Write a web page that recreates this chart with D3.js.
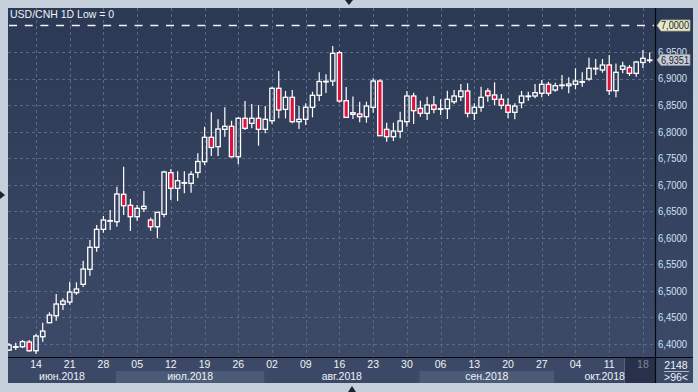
<!DOCTYPE html>
<html><head><meta charset="utf-8">
<script src="https://cdn.jsdelivr.net/npm/d3@7/dist/d3.min.js"></script>
<style>html,body{margin:0;padding:0;background:#c5d0dc;overflow:hidden}svg{display:block;font-family:"Liberation Sans",Arial,sans-serif}</style>
</head><body><svg id="c" width="698" height="392"></svg>
<script>
const title = "USD/CNH 1D Low = 0";
const opens  = [6.3886,6.3949,6.3949,6.4037,6.3873,6.4137,6.4401,6.4533,6.4747,6.4791,6.4966,6.5124,6.5407,6.5821,6.6160,6.6322,6.6304,6.6820,6.6613,6.6398,6.6549,6.6336,6.6209,6.6443,6.7227,6.6933,6.7038,6.7027,6.7231,6.7434,6.7894,6.7717,6.8044,6.8101,6.7528,6.8252,6.8157,6.8252,6.8044,6.8206,6.8817,6.8421,6.8647,6.8188,6.8233,6.8459,6.8685,6.8945,6.8954,6.9488,6.8583,6.8327,6.8333,6.8282,6.8459,6.8954,6.8044,6.7905,6.8007,6.8188,6.8672,6.8440,6.8346,6.8502,6.8430,6.8433,6.8564,6.8659,6.8766,6.8346,6.8459,6.8766,6.8691,6.8610,6.8497,6.8365,6.8546,6.8670,6.8672,6.8723,6.8892,6.8785,6.8876,6.8866,6.8892,6.8941,6.8992,6.9192,6.9162,6.9256,6.8772,6.9175,6.9209,6.9099,6.9303,6.9349];
const highs  = [6.4018,6.4024,6.4075,6.4075,6.4188,6.4401,6.4597,6.4941,6.4860,6.5173,6.5162,6.5569,6.5959,6.6241,6.6411,6.6524,6.6963,6.7340,6.6731,6.6618,6.6882,6.6379,6.6486,6.7264,6.7296,6.7253,6.7253,6.7253,6.7592,6.8093,6.8365,6.8233,6.8459,6.8206,6.8270,6.8578,6.8521,6.8502,6.8483,6.8847,6.9143,6.8766,6.8785,6.8483,6.8534,6.8753,6.9120,6.9082,6.9614,6.9520,6.8841,6.8662,6.8564,6.8564,6.9005,6.8986,6.8169,6.8169,6.8376,6.8766,6.8734,6.8583,6.8659,6.8672,6.8610,6.8772,6.8785,6.8898,6.8911,6.8534,6.8847,6.8817,6.8930,6.8709,6.8628,6.8534,6.8766,6.8753,6.8898,6.8973,6.8941,6.8922,6.9067,6.9024,6.9194,6.9118,6.9393,6.9369,6.9369,6.9444,6.9284,6.9318,6.9256,6.9331,6.9538,6.9491];
const lows   = [6.3868,6.3886,6.3924,6.3854,6.3811,6.4043,6.4390,6.4438,6.4640,6.4740,6.4928,6.5073,6.5286,6.5738,6.6096,6.6147,6.6209,6.6430,6.6128,6.6322,6.6486,6.6134,6.5991,6.6387,6.6712,6.6694,6.6839,6.6850,6.7127,6.7372,6.7541,6.7541,6.7905,6.7513,6.7385,6.8031,6.8063,6.7735,6.7969,6.8144,6.8252,6.8252,6.8157,6.8050,6.8125,6.8270,6.8578,6.8728,6.8860,6.8546,6.8260,6.8238,6.8176,6.8169,6.8357,6.7920,6.7811,6.7824,6.7875,6.8093,6.8144,6.8282,6.8220,6.8346,6.8314,6.8238,6.8521,6.8578,6.8270,6.8220,6.8376,6.8564,6.8502,6.8421,6.8252,6.8233,6.8440,6.8583,6.8628,6.8647,6.8672,6.8753,6.8798,6.8723,6.8798,6.8847,6.8960,6.9067,6.9111,6.8691,6.8647,6.9099,6.9049,6.9035,6.9199,6.9293];
const closes = [6.3981,6.3950,6.4043,6.3873,6.4150,6.4244,6.4546,6.4753,6.4810,6.4979,6.5036,6.5412,6.5821,6.6160,6.6336,6.6325,6.6825,6.6605,6.6398,6.6556,6.6594,6.6209,6.6481,6.7240,6.6933,6.7076,6.7040,6.7197,6.7438,6.7894,6.7702,6.8050,6.8101,6.7528,6.8252,6.8063,6.8252,6.8044,6.8233,6.8817,6.8408,6.8647,6.8188,6.8233,6.8459,6.8685,6.8945,6.8949,6.9476,6.8578,6.8270,6.8357,6.8282,6.8483,6.8954,6.7924,6.7905,6.8012,6.8201,6.8672,6.8395,6.8346,6.8502,6.8421,6.8433,6.8610,6.8672,6.8766,6.8346,6.8459,6.8647,6.8677,6.8610,6.8497,6.8365,6.8483,6.8672,6.8672,6.8734,6.8892,6.8723,6.8866,6.8879,6.8898,6.8954,6.8943,6.9194,6.9194,6.9256,6.8772,6.9118,6.9237,6.9099,6.9312,6.9382,6.9351];
const dayTickLabels = ["14","21","28","05","12","19","26","02","09","16","23","30","06","13","20","27","04","11","18"];
const monthLabels = ["июн.2018","июл.2018","авг.2018","сен.2018","окт.2018"];
const yTickValues = [6.40,6.45,6.50,6.55,6.60,6.65,6.70,6.75,6.80,6.85,6.90,6.95];
const refLevel = 7.0;
const lastPrice = 6.9351;
const cornerTop = "2148", cornerBottom = ">96<";

// trading days (Mon-Fri) Jun 8 .. Oct 19 2018
const dates = d3.timeDay.range(new Date(2018,5,8), new Date(2018,9,20)).filter(d => d.getDay() !== 0 && d.getDay() !== 6);
const data = dates.map((d,i) => ({d, o:opens[i], h:highs[i], l:lows[i], c:closes[i]}));

const svg = d3.select("#c");
const PL = 8, PR = 655, PT = 8, PB = 357, AB = 383, RR = 693;

const x = d3.scaleBand().domain(dates.map(d => +d)).range([5.63, 653.05]).padding(0);
const cx = d => x(+d) + x.bandwidth()/2;
const y = d3.scaleLinear().domain([6.4, 7.0]).range([344, 25.5]);

const defs = svg.append("defs");
const g1 = defs.append("linearGradient").attr("id","bg").attr("x1",0).attr("y1",0).attr("x2",0).attr("y2",1);
g1.append("stop").attr("offset","0%").attr("stop-color","#2b3954");
g1.append("stop").attr("offset","100%").attr("stop-color","#3d4b69");
defs.append("clipPath").attr("id","plotclip").append("rect").attr("x",PL).attr("y",PT).attr("width",PR-PL).attr("height",PB-PT);

// outer frame
svg.append("rect").attr("width",698).attr("height",392).attr("fill","#c5d0dc");
svg.append("rect").attr("x",PL).attr("y",PT).attr("width",RR-PL).attr("height",AB-PT).attr("fill","url(#bg)");
// date axis background
svg.append("rect").attr("x",PL).attr("y",PB).attr("width",RR-PL).attr("height",AB-PB).attr("fill","#3b4967");

// month bands
const fmtMonth = d3.timeFormat("%Y-%m");
const months = Array.from(d3.group(data, r => fmtMonth(r.d)).values());
const bounds = months.map((arr,i) => {
  const left = i === 0 ? PL : cx(arr[0].d) - 1;
  const right = i === months.length-1 ? PR : cx(months[i+1][0].d) - 1;
  return {left, right};
});
bounds.forEach((b,i) => {
  if (i % 2 === 1) svg.append("rect").attr("x",b.left).attr("y",371).attr("width",b.right-b.left).attr("height",AB-371).attr("fill","#4b5a77");
});

// dark current-week box
const thursdays = dates.filter(d => d.getDay() === 4);
const lastThu = thursdays[thursdays.length-1];
svg.append("rect").attr("x",624).attr("y",PB+1).attr("width",PR-624).attr("height",AB-PB-1).attr("fill","#27314a");
svg.append("line").attr("x1",624.5).attr("x2",624.5).attr("y1",PB+1).attr("y2",AB).attr("stroke","#56657f");

// grid
const grid = svg.append("g").attr("clip-path","url(#plotclip)");
grid.selectAll(".hg").data(yTickValues).join("line")
  .attr("x1",PL).attr("x2",PR).attr("y1",d=>Math.round(y(d))+0.5).attr("y2",d=>Math.round(y(d))+0.5)
  .attr("stroke","#5a6a86").attr("stroke-dasharray","3,3");
grid.selectAll(".vg").data(thursdays).join("line")
  .attr("x1",d=>Math.round(cx(d))+0.5).attr("x2",d=>Math.round(cx(d))+0.5).attr("y1",PT).attr("y2",PB)
  .attr("stroke","#5a6a86").attr("stroke-dasharray","3,3");

// reference dashed line
svg.append("line").attr("x1",PL+1).attr("x2",PR-1).attr("y1",Math.round(y(refLevel))-1+0.5).attr("y2",Math.round(y(refLevel))-1+0.5)
  .attr("stroke","#f2f4f8").attr("stroke-width",1.4).attr("stroke-dasharray","8,7.7");

// candles
const cg = svg.append("g").attr("clip-path","url(#plotclip)");
const cs = cg.selectAll("g.c").data(data).join("g");
cs.append("line").attr("x1",r=>cx(r.d)).attr("x2",r=>cx(r.d))
  .attr("y1",r=>y(r.h)).attr("y2",r=>y(Math.max(r.o,r.c))).attr("stroke","#fff").attr("stroke-width",1.2);
cs.append("line").attr("x1",r=>cx(r.d)).attr("x2",r=>cx(r.d))
  .attr("y1",r=>y(Math.min(r.o,r.c))).attr("y2",r=>y(r.l)).attr("stroke","#fff").attr("stroke-width",1.2);
cs.append("rect")
  .attr("x",r=>cx(r.d)-2.2).attr("width",4.4)
  .attr("y",r=>y(Math.max(r.o,r.c)))
  .attr("height",r=>Math.max(y(Math.min(r.o,r.c))-y(Math.max(r.o,r.c)),0.6))
  .attr("fill",r=> r.c < r.o ? "#e0103c" : "none")
  .attr("stroke","#fff").attr("stroke-width",1.3);

// separators
svg.append("line").attr("x1",PR+0.5).attr("x2",PR+0.5).attr("y1",PT).attr("y2",AB).attr("stroke","#06080c").attr("stroke-width",1.2);
svg.append("line").attr("x1",PL).attr("x2",RR).attr("y1",PB+0.5).attr("y2",PB+0.5).attr("stroke","#06080c").attr("stroke-width",1.2);

// title
svg.append("text").attr("x",10).attr("y",18).attr("fill","#f0f3f8").attr("font-size",10.5).text(title);

// y axis labels
const loc = d3.formatLocale({decimal:",", thousands:" ", grouping:[3], currency:["",""]});
const f4 = loc.format(".4f");
const yAxis = d3.axisRight(y).tickValues(yTickValues).tickFormat(f4).tickSize(0).tickPadding(0);
const ya = svg.append("g").attr("transform",`translate(${PR+3},0)`).call(yAxis);
ya.select(".domain").remove();
ya.selectAll("text").attr("fill","#cfe0f6").attr("font-size",10.5)
  .attr("textLength",29).attr("lengthAdjust","spacingAndGlyphs")
  .attr("font-family","Liberation Sans, Arial, sans-serif");

// price tags
function tag(v, fill, stroke) {
  const cy = y(v);
  const g = svg.append("g");
  g.append("path").attr("d",`M${PR+2},${cy} L${PR+6},${cy-5.5} L${RR-3},${cy-5.5} L${RR-3},${cy+5.5} L${PR+6},${cy+5.5} Z`)
    .attr("fill",fill).attr("stroke",stroke).attr("stroke-width",0.8);
  g.append("text").attr("x",PR+6).attr("y",cy+3.8).attr("fill","#1e2430").attr("font-size",10.5)
    .attr("textLength",28).attr("lengthAdjust","spacingAndGlyphs").text(f4(v));
}
tag(refLevel, "#e7e9c9", "#a9ab8e");
tag(lastPrice, "#c9ced6", "#8f97a5");

// date axis
const xAxis = d3.axisBottom(x).tickValues(thursdays.map(d=>+d)).tickFormat((d,i)=>dayTickLabels[i]).tickSize(0).tickPadding(0);
const xa = svg.append("g").attr("transform",`translate(0,${PB+4})`).call(xAxis);
xa.select(".domain").remove();
xa.selectAll("text").attr("fill",(d)=> d === +lastThu ? "#7b879c" : "#eef2f8").attr("font-size",10.5)
  .attr("font-family","Liberation Sans, Arial, sans-serif");

// month labels
svg.selectAll(".ml").data(bounds).join("text")
  .attr("x",b=>(b.left+b.right)/2).attr("y",380).attr("text-anchor","middle")
  .attr("fill","#eef2f8").attr("font-size",10.5).text((b,i)=>monthLabels[i]);

// corner box
svg.append("text").attr("x",676).attr("y",368.5).attr("text-anchor","middle").attr("fill","#eef2f8").attr("font-size",10.5).text(cornerTop);
svg.append("line").attr("x1",664).attr("x2",689).attr("y1",371.5).attr("y2",371.5).attr("stroke","#c8d2e0").attr("stroke-width",0.8);
svg.append("text").attr("x",676).attr("y",380.5).attr("text-anchor","middle").attr("fill","#eef2f8").attr("font-size",10.5).text(cornerBottom);

// frame markers
svg.append("path").attr("d","M345,0 L353,0 L349,5 Z").attr("fill","#1b2230");
svg.append("path").attr("d","M348,392 L356,392 L352,386 Z").attr("fill","#1b2230");
svg.append("path").attr("d","M0,191 L0,199 L5,195 Z").attr("fill","#1b2230");
</script></body></html>
